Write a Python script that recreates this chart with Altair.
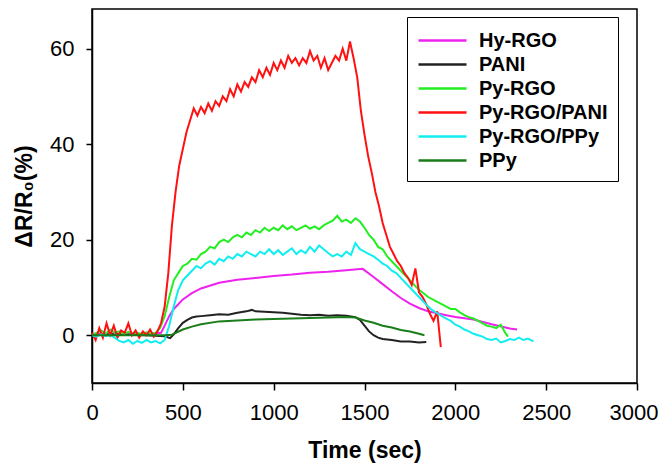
import altair as alt
import pandas as pd

series_names = ["Hy-RGO", "PANI", "Py-RGO", "Py-RGO/PANI", "Py-RGO/PPy", "PPy"]
series_colors = ["#ee22ee", "#222222", "#22ee22", "#ff1111", "#11eef0", "#1a7d1a"]

x_ticks = [0, 500, 1000, 1500, 2000, 2500, 3000]
y_ticks = [0, 20, 40, 60]

# (time in sec, dR/R0 in %)
hy_rgo = [(0, 0.3), (100, 0.3), (200, 0.4), (300, 0.2), (380, 0.5), (400, 2.0), (425, 4.0),
          (450, 5.5), (475, 6.5), (500, 7.5), (550, 8.8), (600, 9.8), (700, 11.0), (800, 11.6),
          (900, 12.0), (1000, 12.4), (1100, 12.7), (1200, 13.1), (1300, 13.3), (1400, 13.6),
          (1490, 13.9), (1550, 12.2), (1600, 10.7), (1650, 9.2), (1700, 7.8), (1750, 6.6),
          (1800, 5.7), (1850, 5.0), (1900, 4.6), (1950, 4.2), (2000, 3.8), (2100, 3.3),
          (2200, 2.3), (2300, 1.4), (2340, 1.2)]

pani = [(0, 0.0), (100, 0.2), (200, 0.1), (300, 0.0), (400, -0.2), (430, -0.6), (450, 0.2),
        (475, 1.5), (500, 2.6), (525, 3.2), (550, 3.7), (575, 3.9), (600, 4.0), (650, 4.2),
        (700, 4.4), (750, 4.3), (800, 4.7), (850, 5.0), (880, 5.3), (900, 5.0), (950, 4.9),
        (1000, 4.8), (1050, 4.7), (1100, 4.5), (1150, 4.3), (1200, 4.2), (1250, 4.3),
        (1300, 4.1), (1350, 4.2), (1400, 4.1), (1450, 3.8), (1475, 3.2), (1500, 2.0),
        (1525, 0.8), (1550, 0.0), (1575, -0.5), (1600, -0.8), (1650, -1.0), (1700, -1.3),
        (1750, -1.3), (1800, -1.5), (1840, -1.4)]

py_rgo = [(0, 0.0), (25, 0.5), (50, 1.0), (75, 0.3), (100, 1.2), (125, 0.5), (150, 0.8),
          (175, 0.2), (200, 0.7), (225, 0.3), (250, 0.5), (275, 0.2), (300, 0.6), (325, 0.3),
          (350, 0.5), (375, 1.5), (400, 4.0), (425, 8.0), (450, 11.5), (475, 13.0), (500, 14.5),
          (525, 15.0), (550, 16.0), (575, 15.8), (600, 17.0), (625, 17.5), (650, 18.5),
          (675, 18.2), (700, 19.5), (725, 20.0), (750, 19.5), (775, 20.5), (800, 21.0),
          (825, 20.5), (850, 21.5), (875, 21.0), (900, 22.0), (925, 21.5), (950, 22.5),
          (975, 21.8), (1000, 22.5), (1025, 22.0), (1050, 23.0), (1075, 22.2), (1100, 22.8),
          (1125, 22.0), (1150, 22.5), (1175, 23.0), (1200, 22.3), (1225, 22.8), (1250, 22.2),
          (1275, 23.0), (1300, 23.5), (1325, 24.0), (1350, 25.0), (1375, 23.8), (1400, 24.2),
          (1425, 23.5), (1450, 24.5), (1475, 23.8), (1500, 22.5), (1525, 21.0), (1550, 20.0),
          (1575, 18.5), (1600, 18.0), (1625, 16.5), (1650, 15.5), (1675, 14.5), (1700, 13.5),
          (1725, 12.5), (1750, 11.5), (1775, 10.5), (1800, 9.5), (1825, 8.8), (1850, 8.0),
          (1875, 7.5), (1900, 7.0), (1925, 6.5), (1950, 6.0), (1975, 5.5), (2000, 5.5),
          (2025, 4.8), (2050, 4.2), (2075, 3.8), (2100, 3.5), (2125, 3.0), (2150, 2.5),
          (2175, 2.0), (2200, 1.8), (2225, 1.5), (2250, 2.2), (2275, 0.5), (2290, -0.3)]

py_rgo_pani = [(0, 0.5), (20, -1.0), (40, 1.5), (60, -0.5), (80, 2.5), (100, 0.0), (120, 2.0),
               (140, -0.5), (160, 1.0), (180, 0.5), (200, 2.5), (220, 0.0), (240, 1.0),
               (260, -0.5), (280, 0.8), (300, 0.0), (320, 1.2), (340, -0.3), (360, 0.8),
               (380, 2.5), (400, 6.0), (420, 13.0), (440, 23.0), (460, 30.0), (480, 35.5),
               (500, 39.0), (520, 42.5), (540, 45.0), (560, 47.5), (580, 46.0), (600, 47.8),
               (620, 46.5), (640, 48.5), (660, 47.0), (680, 49.0), (700, 48.0), (720, 50.0),
               (740, 49.0), (760, 51.5), (780, 50.0), (800, 52.5), (820, 51.0), (840, 53.0),
               (860, 52.0), (880, 54.0), (900, 53.0), (920, 55.5), (940, 54.0), (960, 56.0),
               (980, 54.5), (1000, 57.0), (1020, 55.5), (1040, 57.5), (1060, 56.0), (1080, 58.5),
               (1100, 57.0), (1120, 58.0), (1140, 56.5), (1160, 58.0), (1180, 57.0), (1200, 59.5),
               (1220, 57.5), (1240, 58.5), (1260, 56.0), (1280, 58.0), (1300, 55.5), (1320, 57.0),
               (1340, 58.5), (1360, 57.5), (1380, 60.0), (1400, 57.5), (1420, 61.5), (1440, 58.0),
               (1460, 54.0), (1480, 47.0), (1500, 42.0), (1520, 37.5), (1540, 34.0), (1560, 30.0),
               (1580, 27.0), (1600, 23.5), (1620, 21.0), (1640, 18.5), (1660, 17.0), (1680, 15.5),
               (1700, 14.5), (1720, 13.0), (1740, 12.0), (1760, 10.5), (1780, 14.0), (1800, 9.0),
               (1820, 8.0), (1840, 6.5), (1860, 4.5), (1880, 3.0), (1900, 5.0), (1920, -2.5)]

py_rgo_ppy = [(0, 0.0), (25, -0.3), (50, 0.2), (75, -0.2), (100, 0.0), (125, -0.5), (150, -1.2),
              (175, -1.5), (200, -1.0), (225, -1.8), (250, -1.2), (275, -1.6), (300, -1.0),
              (325, -1.5), (350, -1.2), (375, -1.7), (400, -1.0), (425, 2.0), (450, 6.0),
              (475, 9.5), (500, 11.5), (525, 12.5), (550, 13.5), (575, 14.5), (600, 14.0),
              (625, 15.0), (650, 15.5), (675, 14.8), (700, 16.0), (725, 15.5), (750, 16.5),
              (775, 16.0), (800, 17.0), (825, 16.5), (850, 17.5), (875, 17.0), (900, 16.5),
              (925, 17.5), (950, 17.0), (975, 18.0), (1000, 17.0), (1025, 17.8), (1050, 16.8),
              (1075, 17.5), (1100, 18.2), (1125, 17.0), (1150, 17.8), (1175, 17.2), (1200, 18.5),
              (1225, 17.5), (1250, 18.8), (1275, 18.0), (1300, 17.2), (1325, 16.5), (1350, 17.0),
              (1375, 16.5), (1400, 17.5), (1425, 16.8), (1450, 19.3), (1475, 18.0), (1500, 17.5),
              (1525, 17.0), (1550, 16.5), (1575, 15.8), (1600, 15.0), (1625, 14.5), (1650, 13.5),
              (1675, 13.0), (1700, 12.0), (1725, 11.0), (1750, 10.0), (1775, 9.0), (1800, 8.0),
              (1825, 7.0), (1850, 6.0), (1875, 5.2), (1900, 4.6), (1925, 4.0), (1950, 3.5),
              (1975, 3.0), (2000, 2.2), (2025, 1.8), (2050, 1.2), (2075, 0.8), (2100, 0.3),
              (2125, 0.0), (2150, -0.3), (2175, -0.8), (2200, -1.0), (2225, -0.7), (2250, -1.5),
              (2275, -1.2), (2300, -0.8), (2325, -1.0), (2350, -0.5), (2375, -1.0), (2400, -0.7),
              (2430, -1.3)]

ppy = [(0, 0.0), (200, 0.0), (400, 0.0), (440, 0.1), (500, 1.2), (550, 1.8), (600, 2.3),
       (700, 2.9), (800, 3.1), (900, 3.3), (1000, 3.4), (1100, 3.5), (1200, 3.6), (1300, 3.7),
       (1400, 3.8), (1450, 3.7), (1500, 3.1), (1550, 2.6), (1600, 2.0), (1650, 1.6),
       (1700, 1.1), (1750, 0.8), (1800, 0.3), (1830, 0.0)]

all_series = [hy_rgo, pani, py_rgo, py_rgo_pani, py_rgo_ppy, ppy]

rows = []
for k, (name, pts) in enumerate(zip(series_names, all_series)):
    for t, v in pts:
        rows.append({"series": name, "order": k, "t": t, "v": v})
df = pd.DataFrame(rows)

FONT = "Liberation Sans"

chart = alt.Chart(df).mark_line(strokeWidth=2).encode(
    x=alt.X("t:Q", title="Time (sec)",
            scale=alt.Scale(domain=[0, 3000], nice=False),
            axis=alt.Axis(values=x_ticks, format="d", labelFontSize=22, labelFont=FONT,
                          labelColor="black", tickSize=7, labelPadding=12,
                          labelAlign=alt.ExprRef("datum.value == 3000 ? 'right' : 'center'"),
                          labelOffset=alt.ExprRef("datum.value == 3000 ? 21 : 0"),
                          titleFontSize=23, titleFont=FONT, titleFontWeight="bold",
                          titleColor="black", titlePadding=16, labelFlush=False)),
    y=alt.Y("v:Q", title="ΔR/R₀(%)",
            scale=alt.Scale(domain=[-10, 68.3], nice=False, zero=False),
            axis=alt.Axis(values=y_ticks, labelFontSize=22, labelFont=FONT,
                          labelColor="black", tickSize=6, labelPadding=12,
                          titleFontSize=23, titleFont=FONT, titleFontWeight="bold",
                          titleColor="black", titlePadding=13)),
    color=alt.Color("series:N",
                    scale=alt.Scale(domain=series_names, range=series_colors),
                    legend=alt.Legend(title=None, orient="none", legendX=315, legendY=8,
                                      symbolType="M-2,0H2", symbolSize=576,
                                      symbolStrokeWidth=2.5, symbolOffset=12,
                                      labelOffset=23, labelFontSize=20, labelFont=FONT,
                                      labelFontWeight="bold", labelColor="black",
                                      labelLimit=400, strokeColor="black", fillColor="white",
                                      padding=10, rowPadding=0)),
    detail="order:N",
).properties(
    width=545, height=374,
    autosize=alt.AutoSizeParams(type="none"),
    padding={"left": 84, "top": 1, "right": 21, "bottom": 83},
).configure_axis(
    grid=False, domainColor="black", domainWidth=1.5, tickColor="black", tickWidth=1.5,
).configure_view(
    stroke="black", strokeWidth=1.5,
)

chart.save("out.html", embed_options={"renderer": "svg", "actions": False})
